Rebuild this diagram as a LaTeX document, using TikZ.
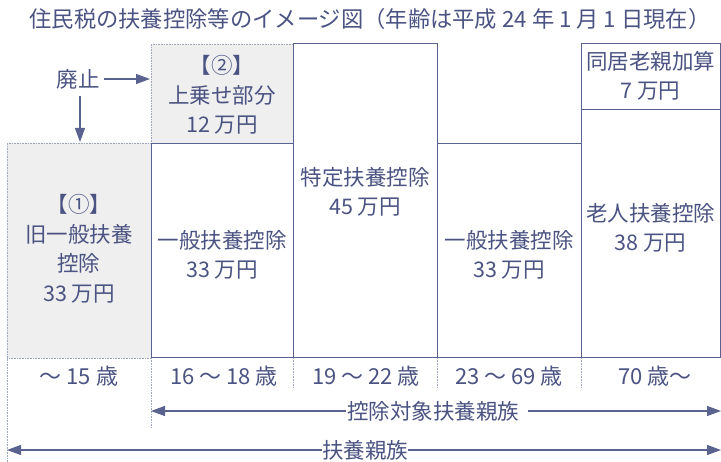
\documentclass[tikz,border=0pt]{standalone}
\usepackage{fontspec}
\setmainfont{Noto Sans CJK JP}
\usetikzlibrary{arrows.meta}
\definecolor{ink}{HTML}{4A5382}
\definecolor{edge}{HTML}{5A6390}
\definecolor{dotc}{HTML}{A0A6BC}
\definecolor{shade}{HTML}{EFEFEF}
\newcommand{\gp}{\hspace{5pt}}
\begin{document}
\begin{tikzpicture}[x=1pt,y=-1pt,
  txt/.style={text=ink,font=\fontsize{21.5}{29.5}\selectfont,inner sep=0pt,align=center},
  solidbox/.style={draw=edge,line width=1.1pt,anchor=north west,inner sep=0pt},
  dotbox/.style={draw=dotc,fill=shade,dash pattern=on 0.8pt off 0.8pt,line width=0.9pt,anchor=north west,inner sep=0pt},
  dotline/.style={draw=dotc,dash pattern=on 0.8pt off 0.8pt,line width=0.9pt},
  arr/.style={draw=edge,line width=1.1pt,-{Triangle[length=14pt,width=10pt]}},
  agelbl/.style={txt,font=\fontsize{22}{26}\selectfont}
]
\useasboundingbox (0,0) rectangle (721,462);
\fill[white] (0,0) rectangle (721,462);

% title
\node[txt,font=\fontsize{22.3}{26}\selectfont] (title) at (370,19) {住民税の扶養控除等のイメージ図（年齢は平成 24 年 1 月 1 日現在）};

% abolished boxes
\node[dotbox,minimum width=142pt,minimum height=99pt] (b2) at (151,44) {};
\node[dotbox,minimum width=144pt,minimum height=215pt] (b1) at (7,143) {};

% solid boxes
\node[solidbox,minimum width=142pt,minimum height=214pt] (c2) at (151,143) {};
\node[solidbox,minimum width=144pt,minimum height=314pt] (c3) at (293,43) {};
\node[solidbox,minimum width=144pt,minimum height=214pt] (c4) at (437,143) {};
\node[solidbox,minimum width=139pt,minimum height=66pt] (c5a) at (581,43) {};
\node[solidbox,minimum width=139pt,minimum height=248pt] (c5b) at (581,109) {};

% box texts
\node[txt] (t2) at (222,95) {【②】\\上乗せ部分\\12\gp{}万円};
\node[txt] (t1) at (79,249) {【①】\\旧一般扶養\\控除\\33\gp{}万円};
\node[txt] (tc2) at (222,255) {一般扶養控除\\33\gp{}万円};
\node[txt] (tc3) at (365,192) {特定扶養控除\\45\gp{}万円};
\node[txt] (tc4) at (509,255) {一般扶養控除\\33\gp{}万円};
\node[txt] (tc5a) at (650.5,76) {同居老親加算\\7\gp{}万円};
\node[txt] (tc5b) at (650.5,228) {老人扶養控除\\38\gp{}万円};

% 廃止
\node[txt] (haishi) at (78,79) {廃止};
\coordinate (hr) at (150,79);
\coordinate (hd) at (80,142);
\draw[arr] (haishi.east) ++(4pt,0) -- (hr);
\draw[arr] (80,96) -- (hd);

% age labels
\node[agelbl] (a1) at (79,376) {～\gp{}15\gp{}歳};
\node[agelbl] (a2) at (224,376) {16\gp{}～\gp{}18\gp{}歳};
\node[agelbl] (a3) at (366,376) {19\gp{}～\gp{}22\gp{}歳};
\node[agelbl] (a4) at (509,376) {23\gp{}～\gp{}69\gp{}歳};
\node[agelbl] (a5) at (655,376) {70\gp{}歳～};

% separators
\draw[dotline] (b1.south west) -- (7,462);
\draw[dotline] (c2.south west) -- (151,428);
\draw[dotline] (c3.south west) -- (293,388);
\draw[dotline] (c4.south west) -- (437,388);
\draw[dotline] (c5b.south west) -- (581,388);

% range arrows
\coordinate (r1l) at (151,411);
\coordinate (r1r) at (721,411);
\node[txt,inner xsep=1pt,fill=white] (r1) at (433,411) {控除対象扶養親族};
\draw[arr] (r1.west) -- (r1l);
\draw[arr] (r1.east) ++(8pt,0) -- (r1r);

\coordinate (r2l) at (7,450);
\coordinate (r2r) at (721,450);
\node[txt,inner xsep=0pt,fill=white] (r2) at (365,450) {扶養親族};
\draw[arr] (r2.west) -- (r2l);
\draw[arr] (r2.east) -- (r2r);
\end{tikzpicture}
\end{document}
